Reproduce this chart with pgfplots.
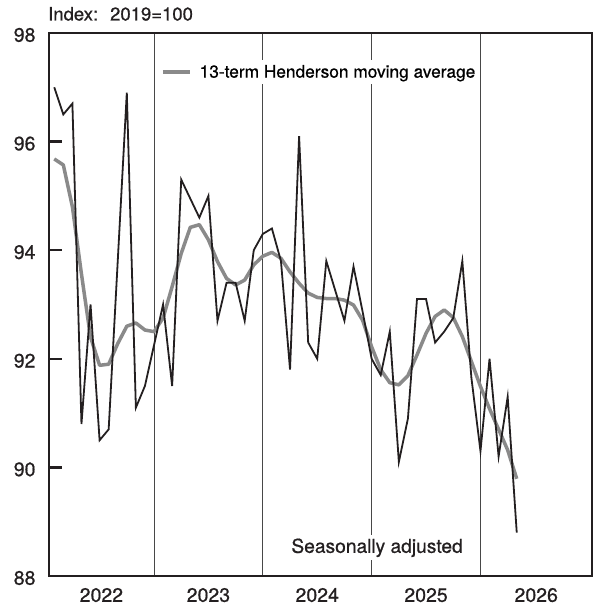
\documentclass[border=0pt]{standalone}
\usepackage{pgfplots}
\pgfplotsset{compat=1.18}
\usepackage{fontspec}
\setmainfont{TeX Gyre Heros}[BoldFont={TeX Gyre Heros}, BoldFeatures={FakeBold=0.7}]
\definecolor{hgray}{RGB}{138,138,138}
\definecolor{dblack}{RGB}{35,31,32}
\begin{document}
\begin{tikzpicture}
\begin{axis}[
  width=543pt, height=543pt, scale only axis,
  xmin=0.42, xmax=60.3, ymin=88, ymax=98,
  font=\fontsize{19.5}{22}\selectfont\bfseries,
  /pgf/number format/assume math mode=true,
  axis line style={line width=2.4pt, dblack},
  ytick={88,90,...,98},
  ytick pos=left,
  tick align=inside,
  major tick length=12.7pt,
  tick style={line width=2.4pt, dblack},
  yticklabel style={xshift=-10pt, yshift=-2pt, text=dblack},
  xtick={6.2,18,30,42,54.15},
  xticklabels={2022,2023,2024,2025,2026},
  xticklabel style={yshift=-8.5pt, text=dblack},
  xtick style={draw=none},
  extra x ticks={12,24,36,48},
  extra x tick labels={},
  extra x tick style={grid=major},
  major grid style={line width=0.9pt, black!72},
  legend style={at={(axis description cs:0.2007,0.928)}, anchor=west,
    draw=none, fill=white, inner sep=3pt,
    font=\fontsize{17.3}{20}\selectfont\bfseries},
  legend cell align=left,
  legend image code/.code={\draw[#1] (0pt,0pt) -- (27pt,0pt); \path (33pt,0pt);},
]
\addplot[hgray, line width=3.5pt, line join=round] coordinates {
(1,95.68) (2,95.57) (3,94.8) (4,93.56) (5,92.4) (6,91.88) (7,91.9) (8,92.28)
(9,92.6) (10,92.66) (11,92.53) (12,92.5) (13,92.75) (14,93.33) (15,93.94) (16,94.42)
(17,94.47) (18,94.19) (19,93.79) (20,93.48) (21,93.36) (22,93.45) (23,93.73) (24,93.89)
(25,93.96) (26,93.85) (27,93.6) (28,93.39) (29,93.21) (30,93.13) (31,93.11) (32,93.11)
(33,93.08) (34,92.99) (35,92.71) (36,92.22) (37,91.8) (38,91.56) (39,91.52) (40,91.69)
(41,92.07) (42,92.47) (43,92.78) (44,92.9) (45,92.76) (46,92.41) (47,91.95) (48,91.49)
(49,91.08) (50,90.7) (51,90.32) (52,89.79)
};
\addlegendentry{13-term Henderson moving average}
\addplot[dblack, line width=1.8pt, line join=miter, forget plot] coordinates {
(1,97.0) (2,96.5) (3,96.7) (4,90.8) (5,93.0) (6,90.5) (7,90.7) (8,93.8)
(9,96.9) (10,91.1) (11,91.5) (12,92.25) (13,93.0) (14,91.5) (15,95.3) (16,94.95)
(17,94.6) (18,95.0) (19,92.7) (20,93.4) (21,93.4) (22,92.7) (23,94.0) (24,94.3)
(25,94.4) (26,93.8) (27,91.8) (28,96.1) (29,92.3) (30,92.0) (31,93.8) (32,93.25)
(33,92.7) (34,93.7) (35,92.87) (36,92.0) (37,91.7) (38,92.5) (39,90.1) (40,90.9)
(41,93.1) (42,93.1) (43,92.3) (44,92.5) (45,92.75) (46,93.8) (47,91.65) (48,90.3)
(49,92.0) (50,90.2) (51,91.3) (52,88.8)
};
\node[fill=white, inner sep=3pt, text=dblack, font=\fontsize{19.2}{22}\selectfont\bfseries] at (axis cs:36.6,88.52) {Seasonally adjusted};
\coordinate (SW) at (rel axis cs:0,0);
\coordinate (NE) at (rel axis cs:1,1);
\coordinate (T90) at (rel axis cs:0,0.2);
\coordinate (T92) at (rel axis cs:0,0.4);
\coordinate (T94) at (rel axis cs:0,0.6);
\coordinate (T96) at (rel axis cs:0,0.8);
\end{axis}
\foreach \t in {T90,T92,T94,T96} \draw[line width=2.4pt, dblack] (\t) -- ++(12.7pt,0);
\draw[line width=2.4pt, dblack] (SW) rectangle (NE);
\node[anchor=base west, inner sep=0pt, xshift=-1pt, yshift=12.5pt, text=dblack,
  font=\fontsize{18.5}{21}\selectfont\bfseries] at (SW|-NE) {Index:\hspace{12pt}2019=100};
\pgfresetboundingbox
\path ([shift={(-49pt,-33pt)}]SW) rectangle ([shift={(6pt,33pt)}]NE);
\end{tikzpicture}
\end{document}
